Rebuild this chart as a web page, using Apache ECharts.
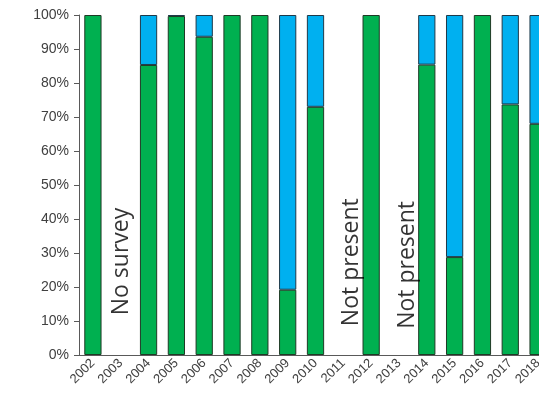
<!DOCTYPE html>
<html>
<head>
<meta charset="utf-8">
<script src="https://cdn.jsdelivr.net/npm/echarts@6/dist/echarts.min.js"></script>
<style>
html,body{margin:0;padding:0;background:#fff;overflow:hidden;width:539px;height:402px;}
#chart{width:553px;height:402px;}
</style>
</head>
<body>
<div id="chart"></div>
<script>
var years = ['2002','2003','2004','2005','2006','2007','2008','2009','2010','2011','2012','2013','2014','2015','2016','2017','2018'];
var greenPct = [100, null, 85.3, 99.7, 93.6, 100, 100, 19.2, 73, null, 100, null, 85.4, 28.8, 100, 73.7, 68];
var bluePct = [null, null, 14.7, 0.3, 6.4, null, null, 80.8, 27, null, null, null, 14.6, 71.2, null, 26.3, 32];
var notes = [
  { year: '2003', text: 'No survey', y: 27.5, dx: 1 },
  { year: '2011', text: 'Not present', y: 27.3, dx: 8 },
  { year: '2013', text: 'Not present', y: 26.5, dx: 8 }
];

var chart = echarts.init(document.getElementById('chart'));
var axisColor = '#595959';
var textColor = '#404040';
chart.setOption({
  animation: false,
  grid: { left: 79, top: 15, bottom: 47, right: 1 },
  xAxis: {
    type: 'category',
    data: years,
    axisLine: { lineStyle: { color: axisColor, width: 1 } },
    axisTick: { alignWithLabel: true, length: 5, lineStyle: { color: axisColor } },
    axisLabel: { rotate: 45, color: textColor, fontFamily: 'Liberation Sans, Arial', fontSize: 13, margin: 6 }
  },
  yAxis: {
    type: 'value', min: 0, max: 100, interval: 10,
    axisLine: { show: true, lineStyle: { color: axisColor, width: 1 } },
    axisTick: { show: true, length: 5, lineStyle: { color: axisColor } },
    splitLine: { show: false },
    axisLabel: { formatter: '{value}%', color: textColor, fontFamily: 'Liberation Sans, Arial', fontSize: 14, margin: 10 }
  },
  series: [
    {
      type: 'bar', stack: 'a', data: greenPct, barWidth: '62%',
      itemStyle: { color: '#00B050', borderColor: '#1f3a26', borderWidth: 1 }
    },
    {
      type: 'bar', stack: 'a', data: bluePct, barWidth: '62%',
      itemStyle: { color: '#00B0F0', borderColor: '#1f3a4a', borderWidth: 1 }
    },
    {
      type: 'scatter', symbolSize: 0, silent: true,
      data: notes.map(function (n) {
        return { value: [n.year, n.y], name: n.text, label: { offset: [0, n.dx] } };
      }),
      label: {
        show: true, position: 'inside', rotate: 90, formatter: '{b}',
        fontFamily: 'Open Sans', fontSize: 23, color: '#000'
      }
    }
  ]
});
</script>
</body>
</html>
